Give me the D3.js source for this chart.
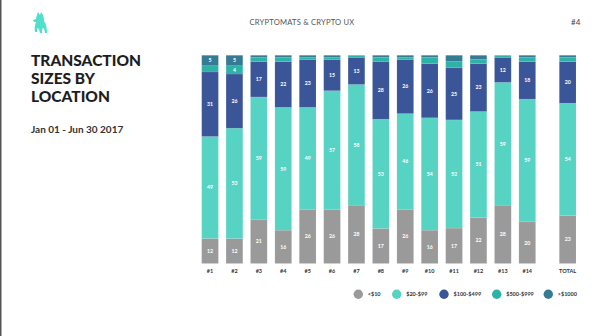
<!DOCTYPE html>
<html>
<head>
<meta charset="utf-8">
<script src="https://cdn.jsdelivr.net/npm/d3@7"></script>
<style>
  body { margin: 0; background: #fff; }
  svg { display: block; font-family: Lato, "Open Sans", sans-serif; }
</style>
</head>
<body>
<div id="main"></div>
<script>
// transaction size buckets, bottom to top
const buckets = ["<$10", "$20-$99", "$100-$499", "$500-$999", ">$1000"];
const bucketColors = ["#9a9a9a", "#57d3c4", "#3a5699", "#2fb2a6", "#357b94"];

const locations = ["#1", "#2", "#3", "#4", "#5", "#6", "#7", "#8", "#9", "#10", "#11", "#12", "#13", "#14", "TOTAL"];

// share (%) of transactions per bucket, one entry per location
const under10   = [12, 12, 21, 16, 26, 26, 28, 17, 26, 16, 17, 22, 28, 20, 23];
const from20    = [49, 53, 59, 59, 49, 57, 58, 53, 46, 54, 52, 51, 59, 59, 54];
const from100   = [31, 26, 17, 22, 23, 15, 13, 28, 26, 26, 25, 23, 12, 18, 20];
const from500   = [3, 4, 2, 2, 1, 1, 1, 2, 1, 3, 3, 2, 1, 2, 2];
const over1000  = [5, 5, 1, 1, 1, 1, 0, 1, 1, 1, 3, 2, 0, 1, 1];

const series = [under10, from20, from100, from500, over1000];

const rows = locations.map((loc, i) => {
  const row = { loc: loc };
  buckets.forEach((b, k) => { row[b] = series[k][i]; });
  return row;
});

const width = 600;
const height = 336;

const svg = d3.select("#main")
  .append("svg")
  .attr("width", width)
  .attr("height", height);

// thin rule down the left edge of the slide
svg.append("rect")
  .attr("x", 0).attr("y", 0)
  .attr("width", 1.5).attr("height", height)
  .attr("fill", "#555");

// header
svg.append("path")
  .attr("d", "M38,12 C37,15 36,17 36,19 L33,20 L34,22 L36,22 C35,25 34,28 35,32 L37,32 L37,28 L39,29 L40,33 L42,33 L42,29 L44,28 L45,33 L47,33 C47,28 46,24 44,21 C44,17 43,14 41,12 L40,15 Z")
  .attr("fill", "#4fdfcb");

svg.append("text")
  .attr("x", 302).attr("y", 24.5)
  .attr("text-anchor", "middle")
  .attr("font-size", 7.6)
  .attr("fill", "#555")
  .attr("letter-spacing", 0.2)
  .text("CRYPTOMATS & CRYPTO UX");

svg.append("text")
  .attr("x", 571).attr("y", 24.5)
  .attr("font-size", 8)
  .attr("fill", "#444")
  .text("#4");

// title block
const titleLines = ["TRANSACTION", "SIZES BY", "LOCATION"];
svg.append("g")
  .selectAll("text")
  .data(titleLines)
  .join("text")
  .attr("x", 31)
  .attr("y", (d, i) => 65.8 + i * 18.3)
  .attr("font-size", 15.5)
  .attr("font-weight", 900)
  .attr("fill", "#1e1e1e")
  .text(d => d);

svg.append("text")
  .attr("x", 31).attr("y", 133)
  .attr("font-size", 10)
  .attr("font-weight", 700)
  .attr("fill", "#333")
  .text("Jan 01 - Jun 30 2017");

// chart
const chartTop = 55.3;
const chartBottom = 263.5;

const xScale = d3.scaleBand()
  .domain(locations.slice(0, 14))
  .range([201.7, 535.6])
  .paddingInner(0.316)
  .paddingOuter(0);

// TOTAL sits apart from the locations
const xPos = loc => loc === "TOTAL"
  ? xScale("#14") + xScale.step() + 16
  : xScale(loc);

const yScale = d3.scaleLinear()
  .domain([0, 1])
  .range([chartBottom, chartTop]);

const stack = d3.stack()
  .keys(buckets)
  .offset(d3.stackOffsetExpand);

const stacked = stack(rows);

const layers = svg.append("g")
  .selectAll("g")
  .data(stacked)
  .join("g")
  .attr("fill", (d, i) => bucketColors[i]);

layers.selectAll("rect")
  .data(d => d)
  .join("rect")
  .attr("x", d => xPos(d.data.loc))
  .attr("y", d => yScale(d[1]))
  .attr("width", xScale.bandwidth())
  .attr("height", d => yScale(d[0]) - yScale(d[1]))
  .attr("stroke", "rgba(255,255,255,0.35)")
  .attr("stroke-width", 0.4)
  .attr("stroke-dasharray", "1,1");

// value labels inside segments big enough to hold them
layers.selectAll("text")
  .data((d, i) => d.map(v => ({ v: v, key: buckets[i] })).filter(o => o.v.data[o.key] >= 4))
  .join("text")
  .attr("x", o => xPos(o.v.data.loc) + xScale.bandwidth() / 2)
  .attr("y", o => (yScale(o.v[0]) + yScale(o.v[1])) / 2)
  .attr("dy", "0.35em")
  .attr("text-anchor", "middle")
  .attr("font-size", 5.2)
  .attr("font-weight", 700)
  .attr("fill", "#fff")
  .text(o => o.v.data[o.key]);

// location labels under the bars
svg.append("g")
  .selectAll("text")
  .data(locations)
  .join("text")
  .attr("x", d => xPos(d) + xScale.bandwidth() / 2)
  .attr("y", 273)
  .attr("text-anchor", "middle")
  .attr("font-size", 5.5)
  .attr("font-weight", 700)
  .attr("fill", "#333")
  .text(d => d);

// legend
const legendX = [358.3, 396.7, 444, 496.7, 548.3];
const legend = svg.append("g")
  .selectAll("g")
  .data(buckets)
  .join("g")
  .attr("transform", (d, i) => `translate(${legendX[i]}, 294.3)`);

legend.append("circle")
  .attr("r", 4.7)
  .attr("fill", (d, i) => bucketColors[i]);

legend.append("text")
  .attr("x", 9.5)
  .attr("dy", "0.35em")
  .attr("font-size", 5.5)
  .attr("font-weight", 700)
  .attr("fill", "#333")
  .text(d => d);
</script>
</body>
</html>
